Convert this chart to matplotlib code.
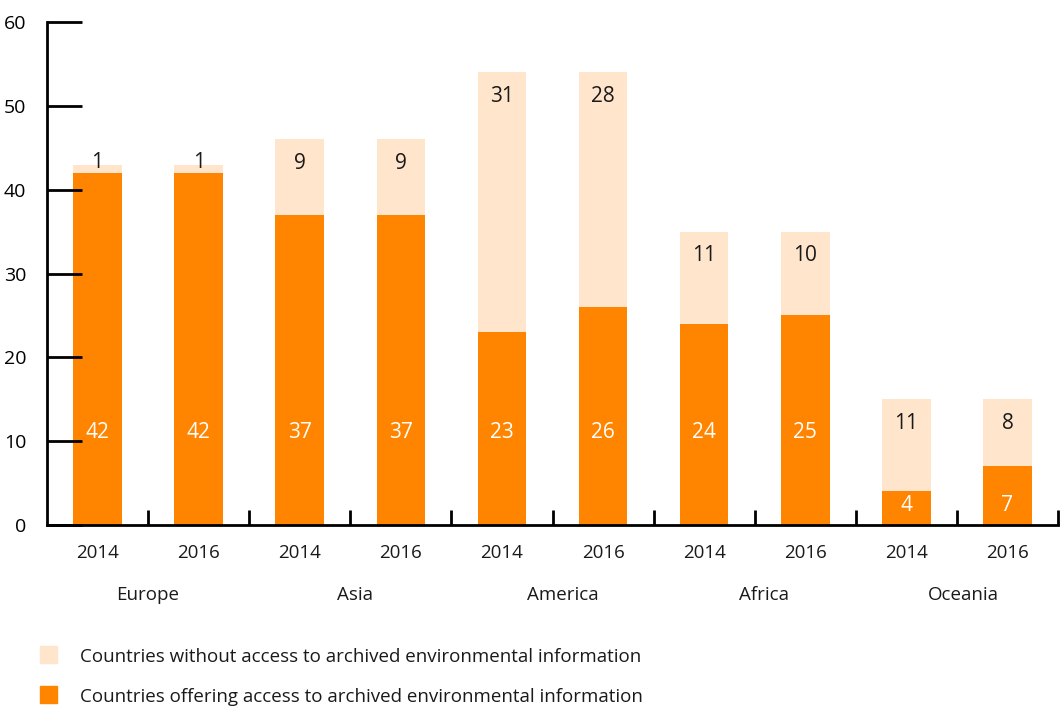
import matplotlib.pyplot as plt
from matplotlib.patches import Rectangle

plt.rcParams['font.family'] = ['Open Sans', 'DejaVu Sans']

regions = ["Europe", "Asia", "America", "Africa", "Oceania"]
years = ["2014", "2016"]
offering = [42, 42, 37, 37, 23, 26, 24, 25, 4, 7]
without = [1, 1, 9, 9, 31, 28, 11, 10, 11, 8]

orange = "#FF8400"
light = "#FFE5CC"
txt = "#1a1a1a"

fig = plt.figure(figsize=(10.64, 7.2), dpi=100)
ax = fig.add_axes([47 / 1064, 195 / 720, 1011 / 1064, 503 / 720])

x = list(range(len(offering)))
ax.bar(x, offering, width=0.48, color=orange)
ax.bar(x, without, width=0.48, bottom=offering, color=light)

for i in x:
    o = offering[i]
    w = without[i]
    oy = 11 if o >= 15 else 2.3
    ax.text(i, oy, str(o), color="white", ha="center", va="center", fontsize=15)
    wy = max(o + w - 2.9, o + 1.2)
    ax.text(i, wy, str(w), color=txt, ha="center", va="center", fontsize=15)

ax.set_xlim(-0.5, 9.5)
ax.set_ylim(0, 60)
ax.set_yticks(range(0, 61, 10))
ax.tick_params(axis="y", direction="in", length=25, width=2, labelsize=14, pad=15)
ax.set_xticks([i + 0.5 for i in x])
ax.set_xticklabels([])
ax.tick_params(axis="x", direction="in", length=11, width=2)
for s in ["top", "right"]:
    ax.spines[s].set_visible(False)
for s in ["left", "bottom"]:
    ax.spines[s].set_linewidth(2)

for i in x:
    ax.text(i, -3.3, years[i % 2], ha="center", va="center", fontsize=13.5, color=txt)
# small nudges to match the original label placement
nudge = [0, 0.05, 0.1, 0.09, 0.06]
for g, name in enumerate(regions):
    ax.text(2 * g + 0.5 + nudge[g], -8.3, name, ha="center", va="center", fontsize=13.5, color=txt)

# legend
fig.patches.append(Rectangle((40 / 1064, 1 - 663 / 720), 17 / 1064, 17 / 720,
                             transform=fig.transFigure, color=light))
fig.patches.append(Rectangle((40 / 1064, 1 - 703 / 720), 17 / 1064, 17 / 720,
                             transform=fig.transFigure, color=orange))
fig.text(80 / 1064, 1 - 657 / 720, "Countries without access to archived environmental information",
         va="center", fontsize=13.5, color=txt)
fig.text(80 / 1064, 1 - 697 / 720, "Countries offering access to archived environmental information",
         va="center", fontsize=13.5, color=txt)

fig.savefig("out.png", dpi=100)
